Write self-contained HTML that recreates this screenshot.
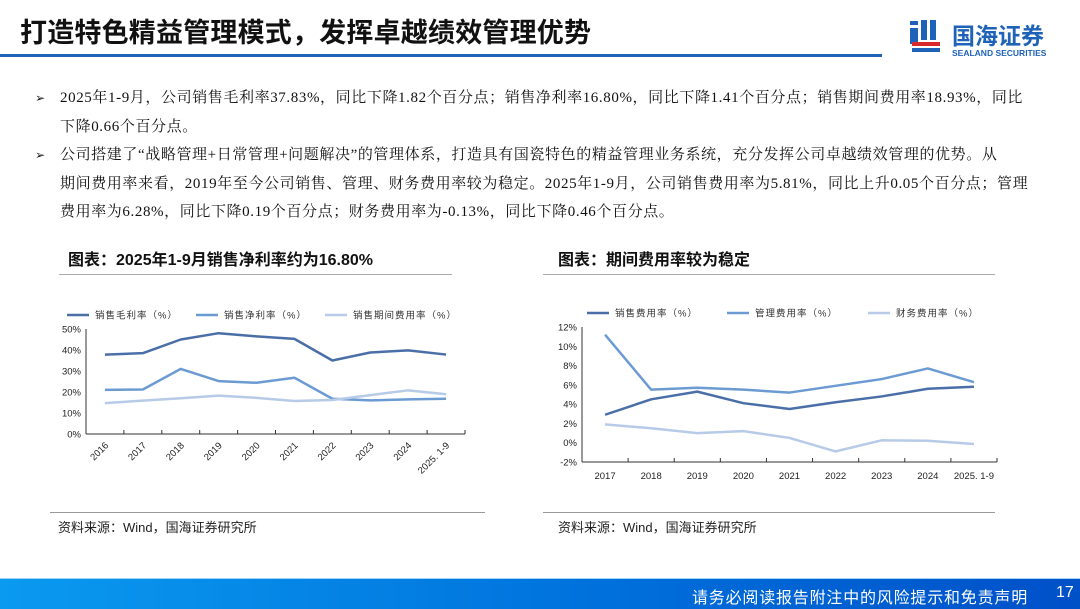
<!DOCTYPE html>
<html><head><meta charset="utf-8">
<style>
body{margin:0;width:1080px;height:608px;overflow:hidden;background:#fff;font-family:"Liberation Sans","Noto Sans CJK SC",sans-serif;position:relative}
.abs{position:absolute}
.title{left:20px;top:11px;font-size:27px;font-weight:bold;color:#111;letter-spacing:0.2px;white-space:nowrap}
.hline{left:0;top:54px;width:882px;height:3px;background:#1e63b8}
.body{left:35px;top:84px;width:1040px;font-family:"Liberation Serif","Noto Serif CJK SC",serif;font-size:15px;line-height:28.5px;color:#111;letter-spacing:0.6px;white-space:nowrap}
.body p{margin:0;padding-left:25px;position:relative}
.body p span.b{position:absolute;left:0;top:0;font-family:"DejaVu Sans",sans-serif;font-size:12px}
.ct{font-size:16px;font-weight:bold;color:#111;white-space:nowrap}
.src{font-size:13px;color:#222}
.foot{left:0;top:578px;width:1080px;height:30px;background:linear-gradient(90deg,#0a9af0,#0071dc 55%,#0050c8);border-top:1px solid #9fd4f5}
.foot span{position:absolute;top:5px;color:#fff;font-size:16px;white-space:nowrap}
</style></head><body>
<div class="abs title">打造特色精益管理模式，发挥卓越绩效管理优势</div>
<div class="abs hline"></div>
<div class="abs" style="left:908px;top:18px">
<svg width="172" height="42"><rect x="2" y="3" width="8" height="4" fill="#1e63b8"/><rect x="2" y="10" width="8" height="16" fill="#1e63b8"/><rect x="13" y="2" width="6" height="20" fill="#1e63b8"/><rect x="22" y="2" width="6" height="20" fill="#1e63b8"/><rect x="4" y="24" width="28" height="4" fill="#d8282b"/><rect x="4" y="30" width="28" height="4" fill="#1e63b8"/>
<text x="44" y="26" font-size="23" font-weight="bold" fill="#1e63b8" font-family="Noto Sans CJK SC,sans-serif">国海证券</text>
<text x="44" y="38" font-size="8.5" font-weight="bold" fill="#1e63b8" font-family="Liberation Sans,sans-serif">SEALAND SECURITIES</text></svg></div>
<div class="abs body">
<p><span class="b">➢</span>2025年1-9月，公司销售毛利率37.83%，同比下降1.82个百分点；销售净利率16.80%，同比下降1.41个百分点；销售期间费用率18.93%，同比<br>下降0.66个百分点。</p>
<p><span class="b">➢</span>公司搭建了“战略管理+日常管理+问题解决”的管理体系，打造具有国瓷特色的精益管理业务系统，充分发挥公司卓越绩效管理的优势。从<br>期间费用率来看，2019年至今公司销售、管理、财务费用率较为稳定。2025年1-9月，公司销售费用率为5.81%，同比上升0.05个百分点；管理<br>费用率为6.28%，同比下降0.19个百分点；财务费用率为-0.13%，同比下降0.46个百分点。</p>
</div>
<div class="abs ct" style="left:68px;top:246px">图表：2025年1-9月销售净利率约为16.80%</div>
<div class="abs" style="left:59px;top:274px;width:393px;height:1px;background:#aaa"></div>
<div class="abs ct" style="left:558px;top:246px">图表：期间费用率较为稳定</div>
<div class="abs" style="left:543px;top:274px;width:452px;height:1px;background:#aaa"></div>
<div class="abs" style="left:50px;top:512px;width:435px;height:1px;background:#999"></div>
<div class="abs" style="left:543px;top:512px;width:452px;height:1px;background:#999"></div>
<div class="abs src" style="left:58px;top:517px">资料来源：Wind，国海证券研究所</div>
<div class="abs src" style="left:558px;top:517px">资料来源：Wind，国海证券研究所</div>
<div class="abs foot"><span style="left:692px;letter-spacing:0.8px">请务必阅读报告附注中的风险提示和免责声明</span><span style="left:1056px">17</span></div>
<svg id="c1" class="abs" style="left:0;top:0" width="1080" height="608"></svg>
<script>
const cats1=["2016","2017","2018","2019","2020","2021","2022","2023","2024","2025.1-9"];
const gross=[37.8,38.5,45,48,46.5,45.3,35,38.8,39.8,37.83];
const net=[21,21.2,31,25.2,24.4,26.8,16.8,16,16.5,16.8];
const expense1=[14.7,15.9,17,18.3,17.2,15.7,16.2,18.5,20.8,18.93];
const ticks1=[0,10,20,30,40,50];
const names1=["销售毛利率（%）","销售净利率（%）","销售期间费用率（%）"];
const cats2=["2017","2018","2019","2020","2021","2022","2023","2024","2025.1-9"];
const selling=[2.9,4.5,5.3,4.1,3.5,4.2,4.8,5.6,5.81];
const admin=[11.2,5.5,5.7,5.5,5.2,5.9,6.6,7.7,6.28];
const finance=[1.9,1.5,1.0,1.2,0.5,-0.9,0.25,0.2,-0.13];
const ticks2=[-2,0,2,4,6,8,10,12];
const names2=["销售费用率（%）","管理费用率（%）","财务费用率（%）"];
const colors=["#4a6fa8","#6b9bd2","#b7cbe8"];
const svg=document.getElementById('c1');const NS="http://www.w3.org/2000/svg";
function mk(t,a,txt){const e=document.createElementNS(NS,t);for(const k in a)e.setAttribute(k,a[k]);if(txt!==undefined)e.textContent=txt;svg.appendChild(e);return e;}
function chart(o){
 const n=o.cats.length,bw=(o.x1-o.x0)/n;
 const X=i=>o.x0+bw*(i+0.5);
 const Y=v=>o.yb-(v-o.ymin)/(o.ymax-o.ymin)*(o.yb-o.yt);
 let e=mk('line',{x1:o.x0,x2:o.x0,y1:o.yt,y2:o.yb,stroke:'#333','stroke-width':1});
 
 e=mk('line',{x1:o.x0,x2:o.x1,y1:o.yb,y2:o.yb,stroke:'#333','stroke-width':1});
 
 o.ticks.forEach(t=>{e=mk('text',{x:o.x0-5,y:Y(t)+3.5,'text-anchor':'end','font-size':9.5,fill:'#222'},t+'%');
  });
 for(let i=1;i<n;i++){mk('line',{x1:o.x0+bw*i,x2:o.x0+bw*i,y1:o.yb,y2:o.yb-4,stroke:'#333'});}
 mk('line',{x1:o.x1,x2:o.x1,y1:o.yb,y2:o.yb-4,stroke:'#333'});
 o.cats.forEach((c,i)=>{
  if(o.rot){e=mk('text',{x:X(i)+4,y:o.yb+12,'text-anchor':'end','font-size':9.5,fill:'#222',transform:`rotate(-45 ${X(i)+4} ${o.yb+12})`},c.replace('.1-9','. 1-9'));}
  else{e=mk('text',{x:X(i),y:o.yb+17,'text-anchor':'middle','font-size':9.5,fill:'#222'},c.replace('.1-9','. 1-9'));}
  });
 o.series.forEach((s,k)=>{
  e=mk('polyline',{points:s.map((v,i)=>X(i)+','+Y(v)).join(' '),fill:'none',stroke:colors[k],'stroke-width':2.5,'stroke-linejoin':'round'});
  
  const lx=o.lx[k];
  mk('line',{x1:lx,x2:lx+22,y1:o.ly,y2:o.ly,stroke:colors[k],'stroke-width':2.5});
  e=mk('text',{x:lx+28,y:o.ly+3.5,'font-size':9.5,fill:'#333','letter-spacing':'1'},o.names[k]);
  
 });
}
chart({id:'left',cats:cats1,series:[gross,net,expense1],names:names1,ticks:ticks1,x0:86,x1:465,yt:329,yb:434,ymin:0,ymax:50,rot:true,ly:315,lx:[67,196,325]});
chart({id:'right',cats:cats2,series:[selling,admin,finance],names:names2,ticks:ticks2,x0:582,x1:997,yt:327,yb:462,ymin:-2,ymax:12,rot:false,ly:313,lx:[587,727,868]});
</script>
</body></html>
